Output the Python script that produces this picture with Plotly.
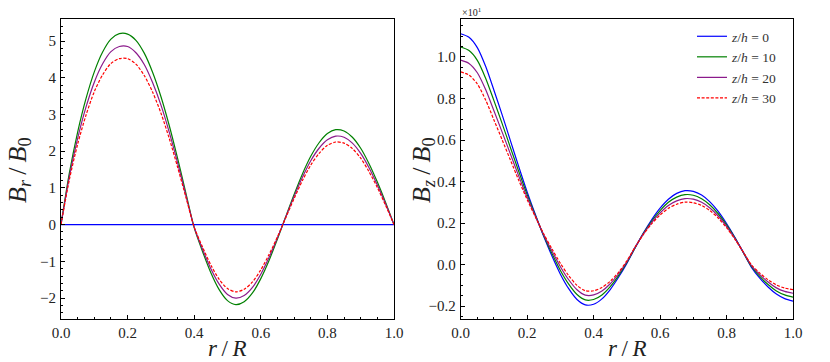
import plotly.graph_objects as go

r = [round(i * 0.025, 3) for i in range(41)]

# B_r / B_0
br_z0 = [0.0] * 41
br_z10 = [0, 1.40, 2.52, 3.43, 4.16, 4.70, 5.05, 5.20, 5.19, 5.02, 4.67, 4.15, 3.49, 2.70, 1.81, 0.86,
          -0.08, -0.73, -1.31, -1.77, -2.07, -2.18, -2.10, -1.86, -1.47, -0.97, -0.39,
          0.22, 0.82, 1.38, 1.86, 2.23, 2.48, 2.585, 2.55, 2.38, 2.08, 1.66, 1.16, 0.60, 0]
br_z20 = [0, 1.31, 2.35, 3.20, 3.88, 4.38, 4.71, 4.85, 4.85, 4.68, 4.36, 3.87, 3.26, 2.52, 1.69, 0.80,
          -0.07, -0.67, -1.20, -1.62, -1.90, -2.00, -1.93, -1.71, -1.35, -0.89, -0.36,
          0.21, 0.77, 1.29, 1.74, 2.08, 2.31, 2.41, 2.38, 2.22, 1.94, 1.55, 1.08, 0.56, 0]
br_z30 = [0, 1.22, 2.19, 2.98, 3.62, 4.08, 4.39, 4.52, 4.52, 4.37, 4.06, 3.61, 3.04, 2.35, 1.57, 0.75,
          -0.07, -0.61, -1.10, -1.49, -1.74, -1.83, -1.76, -1.56, -1.23, -0.81, -0.33,
          0.19, 0.71, 1.20, 1.62, 1.94, 2.16, 2.25, 2.22, 2.07, 1.81, 1.44, 1.01, 0.52, 0]

# B_z / B_0 (axis shown with x10^1 offset)
bz_z0 = [1.112, 1.095, 1.045, 0.955, 0.84, 0.72, 0.595, 0.47, 0.35, 0.24, 0.135, 0.04,
         -0.046, -0.116, -0.168, -0.194, -0.191, -0.165, -0.120, -0.061,
         0.006, 0.081, 0.153, 0.217, 0.272, 0.315, 0.343, 0.356, 0.353, 0.335, 0.302, 0.256,
         0.198, 0.132, 0.060, -0.013, -0.065, -0.108, -0.142, -0.164, -0.176]
bz_z10 = [1.048, 1.031, 0.984, 0.898, 0.790, 0.678, 0.562, 0.447, 0.337, 0.236, 0.139, 0.052,
          -0.028, -0.094, -0.144, -0.170, -0.168, -0.146, -0.106, -0.053,
          0.010, 0.082, 0.151, 0.210, 0.260, 0.300, 0.325, 0.337, 0.334, 0.317, 0.287, 0.245,
          0.191, 0.129, 0.060, -0.009, -0.057, -0.096, -0.127, -0.146, -0.157]
bz_z20 = [0.985, 0.969, 0.924, 0.843, 0.741, 0.637, 0.531, 0.425, 0.324, 0.232, 0.143, 0.064,
          -0.010, -0.073, -0.121, -0.147, -0.146, -0.127, -0.092, -0.044,
          0.014, 0.084, 0.148, 0.203, 0.249, 0.285, 0.307, 0.318, 0.315, 0.300, 0.273, 0.234,
          0.184, 0.126, 0.061, -0.005, -0.048, -0.084, -0.112, -0.129, -0.138]
bz_z30 = [0.928, 0.913, 0.870, 0.793, 0.697, 0.600, 0.502, 0.405, 0.313, 0.229, 0.147, 0.075,
          0.006, -0.053, -0.100, -0.126, -0.126, -0.110, -0.080, -0.037,
          0.018, 0.085, 0.146, 0.197, 0.239, 0.271, 0.291, 0.301, 0.298, 0.285, 0.260, 0.224,
          0.178, 0.123, 0.061, -0.001, -0.041, -0.073, -0.098, -0.113, -0.121]

S = "\u2009"
labels = ["<i>z</i>/<i>h</i> = 0", "<i>z</i>/<i>h</i> = 10",
          "<i>z</i>/<i>h</i> = 20", "<i>z</i>/<i>h</i> = 30"]
colors = ["#0000ff", "#008000", "#8b1a8b", "#ff0000"]
dashes = ["solid", "solid", "solid", "3px,1.6px"]

FONT = "'Liberation Serif', 'Times New Roman', serif"
fig = go.Figure()
for ys, c, d, lab in zip([br_z0, br_z10, br_z20, br_z30], colors, dashes, labels):
    fig.add_trace(go.Scatter(x=r, y=ys, mode="lines", line=dict(color=c, width=1.2, dash=d, shape="spline", smoothing=0.8),
                             showlegend=False, xaxis="x", yaxis="y", hoverinfo="skip"))
for ys, c, d, lab in zip([bz_z0, bz_z10, bz_z20, bz_z30], colors, dashes, labels):
    fig.add_trace(go.Scatter(x=r, y=ys, mode="lines", name=lab, line=dict(color=c, width=1.2, dash=d, shape="spline", smoothing=0.8),
                             showlegend=True, xaxis="x2", yaxis="y2", hoverinfo="skip"))

L, R, T, B = 61, 37, 19, 43
W, H = 830, 362
pw = W - L - R
ph = H - T - B
d1 = (394 - L) / pw
d2 = (460.7 - L) / pw

axis_common = dict(showline=True, linecolor="black", linewidth=1, mirror=True, ticks="inside",
                   ticklen=4, tickwidth=1, tickcolor="black", showgrid=False, zeroline=False,
                   tickfont=dict(family=FONT, size=15, color="#222"))

fig.update_layout(
    width=W, height=H, margin=dict(l=L, r=R, t=T, b=B),
    paper_bgcolor="white", plot_bgcolor="white",
    font=dict(family=FONT, color="#222"),
    xaxis=dict(domain=[0, d1], range=[0, 1], tickvals=[0, 0.2, 0.4, 0.6, 0.8, 1.0],
               ticktext=["0.0", "0.2", "0.4", "0.6", "0.8", "1.0"], ticklabelstandoff=0,
               minor=dict(dtick=0.05, ticklen=2, ticks="inside", tickcolor="black"), anchor="y", **axis_common),
    yaxis=dict(domain=[0, 1], range=[-2.57, 5.6], tickvals=[-2, -1, 0, 1, 2, 3, 4, 5], ticklabelstandoff=1,
               minor=dict(dtick=0.2, ticklen=2, ticks="inside", tickcolor="black"), anchor="x", **axis_common),
    xaxis2=dict(domain=[d2, 1], range=[0, 1], tickvals=[0, 0.2, 0.4, 0.6, 0.8, 1.0],
                ticktext=["0.0", "0.2", "0.4", "0.6", "0.8", "1.0"], ticklabelstandoff=0,
                minor=dict(dtick=0.05, ticklen=2, ticks="inside", tickcolor="black"), anchor="y2", **axis_common),
    yaxis2=dict(domain=[0, 1], range=[-0.262, 1.183], tickvals=[-0.2, 0, 0.2, 0.4, 0.6, 0.8, 1.0],
                ticktext=["\u22120.2", "0.0", "0.2", "0.4", "0.6", "0.8", "1.0"], ticklabelstandoff=1,
                minor=dict(dtick=0.05, ticklen=2, ticks="inside", tickcolor="black"), anchor="x2", **axis_common),
    legend=dict(x=(692 - L) / pw, y=1 - (21 - T) / ph, xanchor="left", yanchor="top", bgcolor="rgba(0,0,0,0)",
                font=dict(family=FONT, size=13.5, color="#333"), tracegroupgap=0, itemwidth=30),
)

for xc in [(61 + 394) / 2, (460.7 + 793.3) / 2]:
    fig.add_annotation(text=f"<i>r</i>{S}/{S}<i>R</i>", xref="paper", yref="paper", x=(xc - L) / pw, y=1 - (348 - T) / ph,
                       showarrow=False, font=dict(family=FONT, size=23, color="#222"), xanchor="center", yanchor="middle")
fig.add_annotation(text=f"<i>B</i><sub><i>r</i></sub>{S}/{S}<i>B</i><sub>0</sub>", xref="paper", yref="paper",
                   x=(19 - L) / pw, y=1 - (170 - T) / ph, textangle=-90, showarrow=False,
                   font=dict(family=FONT, size=26, color="#222"), xanchor="center", yanchor="middle")
fig.add_annotation(text=f"<i>B</i><sub><i>z</i></sub>{S}/{S}<i>B</i><sub>0</sub>", xref="paper", yref="paper",
                   x=(423 - L) / pw, y=1 - (170 - T) / ph, textangle=-90, showarrow=False,
                   font=dict(family=FONT, size=26, color="#222"), xanchor="center", yanchor="middle")
fig.add_annotation(text="\u00d710<sup>1</sup>", xref="paper", yref="paper",
                   x=(460 - L) / pw, y=1 - (12 - T) / ph, showarrow=False,
                   font=dict(family=FONT, size=10, color="#222"), xanchor="left", yanchor="middle")

fig.write_html("out.html", config={"displayModeBar": False, "staticPlot": True},
               post_script="document.body.style.margin='0';document.body.style.padding='0';")
